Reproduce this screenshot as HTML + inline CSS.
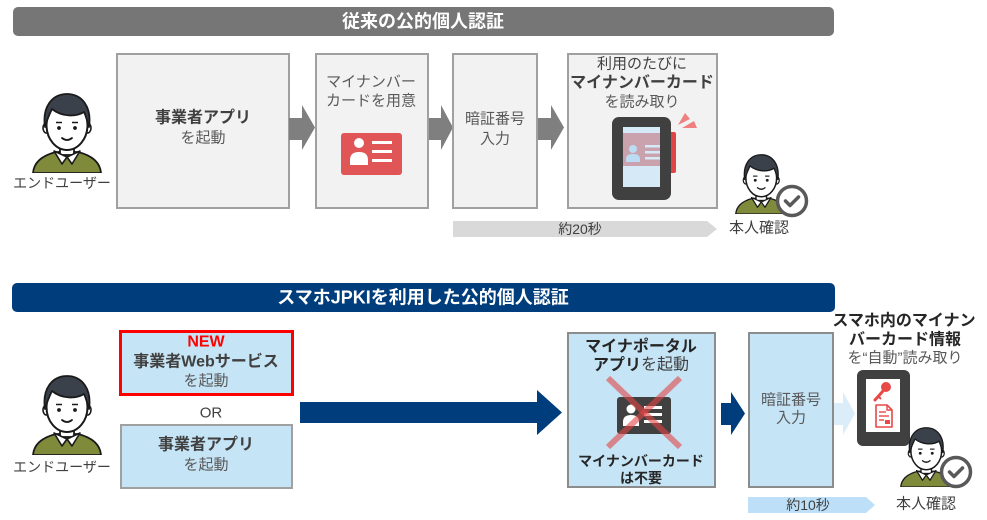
<!DOCTYPE html>
<html><head><meta charset="utf-8"><style>
html,body{margin:0;padding:0;background:#fff;}
body{width:987px;height:520px;overflow:hidden;}
svg{display:block;}
text{font-family:"Liberation Sans","Noto Sans CJK JP",sans-serif;}
</style></head><body>
<svg width="987" height="520" viewBox="0 0 987 520" xmlns="http://www.w3.org/2000/svg">
<defs>
<symbol id="person" viewBox="0 0 70 80">
 <path d="M1,80 C2,68 12,62 24,59 L46,59 C58,62 68,68 69,80 Z" fill="#7f8a3b" stroke="#1a1a1a" stroke-width="1.8"/>
 <rect x="28" y="46" width="14" height="16" fill="#fff" stroke="#1a1a1a" stroke-width="1.8"/>
 <path d="M22,58 L35,64 L30,71 Z" fill="#fff" stroke="#1a1a1a" stroke-width="1.6" stroke-linejoin="round"/>
 <path d="M48,58 L35,64 L40,71 Z" fill="#fff" stroke="#1a1a1a" stroke-width="1.6" stroke-linejoin="round"/>
 <ellipse cx="14.5" cy="35" rx="3.5" ry="5" fill="#fff" stroke="#1a1a1a" stroke-width="1.6"/>
 <ellipse cx="55.5" cy="35" rx="3.5" ry="5" fill="#fff" stroke="#1a1a1a" stroke-width="1.6"/>
 <ellipse cx="35" cy="32" rx="20.5" ry="25" fill="#fff" stroke="#1a1a1a" stroke-width="2"/>
 <path d="M13,34 C10,14 20,1 35,1 C50,1 60,14 57,34 C55,27 54,23 52,19 C44,24 30,24 20,16 C17,22 15,27 13,34 Z" fill="#3a414b" stroke="#1a1a1a" stroke-width="1.8" stroke-linejoin="round"/>
 <circle cx="27" cy="35" r="1.9" fill="#1a1a1a"/>
 <circle cx="43" cy="35" r="1.9" fill="#1a1a1a"/>
 <line x1="24" y1="29.5" x2="30" y2="29.5" stroke="#1a1a1a" stroke-width="1.5"/>
 <line x1="40" y1="29.5" x2="46" y2="29.5" stroke="#1a1a1a" stroke-width="1.5"/>
 <path d="M30,45 Q35,49 40,45" fill="none" stroke="#1a1a1a" stroke-width="1.8" stroke-linecap="round"/>
</symbol>
<symbol id="check" viewBox="-17 -17 34 34">
 <circle cx="0" cy="0" r="14.5" fill="#fff" stroke="#595959" stroke-width="3.5"/>
 <path d="M-6.5,0 L-2,4.5 L6.5,-4" fill="none" stroke="#595959" stroke-width="3.5" stroke-linecap="round" stroke-linejoin="round"/>
</symbol>
</defs>

<!-- ===== TOP SECTION ===== -->
<rect x="13" y="7" width="821" height="29" rx="5" fill="#767676"/>
<text x="423" y="21.5" text-anchor="middle" dominant-baseline="central" font-size="18" font-weight="bold" fill="#fff">従来の公的個人認証</text>

<use href="#person" x="32" y="93" width="70" height="80"/>
<text x="62" y="183" text-anchor="middle" dominant-baseline="central" font-size="14" fill="#404040">エンドユーザー</text>

<!-- box1 -->
<rect x="117" y="54" width="172" height="154" fill="#f2f2f2" stroke="#a0a0a0" stroke-width="2"/>
<text x="203" y="118" text-anchor="middle" dominant-baseline="central" font-size="16" font-weight="bold" fill="#404040">事業者アプリ</text>
<text x="203" y="138" text-anchor="middle" dominant-baseline="central" font-size="15" fill="#595959">を起動</text>

<!-- arrows top -->
<polygon points="289,118 302,118 302,105 315,127.5 302,150 302,140 289,140" fill="#7f7f7f"/>
<polygon points="428,118 441,118 441,105 453,127.5 441,150 441,140 428,140" fill="#7f7f7f"/>
<polygon points="538,118 551,118 551,105 564,127.5 551,150 551,140 538,140" fill="#7f7f7f"/>

<!-- box2 -->
<rect x="316" y="54" width="112" height="154" fill="#f2f2f2" stroke="#a0a0a0" stroke-width="2"/>
<text x="371" y="82" text-anchor="middle" dominant-baseline="central" font-size="15" fill="#595959">マイナンバー</text>
<text x="371" y="101" text-anchor="middle" dominant-baseline="central" font-size="15" fill="#595959">カードを用意</text>
<rect x="341" y="133" width="61" height="42" rx="3" fill="#e05656"/>
<circle cx="359" cy="143" r="5" fill="#fff"/>
<path d="M350,165 L350,160 Q350,152 359,152 Q368,152 368,160 L368,165 Z" fill="#fff"/>
<rect x="372" y="141" width="20" height="3" fill="#fff"/>
<rect x="372" y="150" width="20" height="3" fill="#fff"/>
<rect x="372" y="159" width="20" height="3" fill="#fff"/>

<!-- box3 -->
<rect x="453" y="54" width="84" height="154" fill="#f2f2f2" stroke="#a0a0a0" stroke-width="2"/>
<text x="495" y="119" text-anchor="middle" dominant-baseline="central" font-size="15" fill="#595959">暗証番号</text>
<text x="495" y="139" text-anchor="middle" dominant-baseline="central" font-size="15" fill="#595959">入力</text>

<!-- box4 -->
<rect x="568" y="54" width="149" height="154" fill="#f2f2f2" stroke="#a0a0a0" stroke-width="2"/>
<text x="642" y="64" text-anchor="middle" dominant-baseline="central" font-size="15" fill="#404040">利用のたびに</text>
<text x="642" y="83" text-anchor="middle" dominant-baseline="central" font-size="16" font-weight="bold" fill="#404040">マイナンバーカード</text>
<text x="642" y="102" text-anchor="middle" dominant-baseline="central" font-size="15" fill="#595959">を読み取り</text>
<rect x="662" y="132" width="14" height="41" rx="2" fill="#e04545"/>
<rect x="612" y="117" width="59" height="83" rx="7" fill="#404040"/>
<rect x="623" y="127" width="37" height="60" fill="#d6e9f7"/>
<rect x="623" y="133" width="37" height="33" fill="#c9a2ad"/>
<circle cx="633" cy="149" r="4" fill="#bcdcf3"/>
<path d="M626,162 L626,159 Q626,154 633,154 Q640,154 640,159 L640,162 Z" fill="#bcdcf3"/>
<rect x="645" y="145" width="15" height="2.5" fill="#d6e9f7"/>
<rect x="645" y="151" width="15" height="2.5" fill="#d6e9f7"/>
<rect x="645" y="157" width="15" height="2.5" fill="#d6e9f7"/>
<polygon points="678,125 685,113 690,119" fill="#f08080"/>
<polygon points="682,128 694,121 697,128" fill="#f08080"/>

<!-- timeline top -->
<polygon points="453,221 707,221 717,229 707,237 453,237" fill="#d9d9d9"/>
<text x="580" y="229" text-anchor="middle" dominant-baseline="central" font-size="14" fill="#404040">約20秒</text>

<use href="#person" x="735" y="154" width="52.5" height="60"/>
<use href="#check" x="775" y="184" width="34" height="34"/>
<text x="759" y="228" text-anchor="middle" dominant-baseline="central" font-size="15" fill="#404040">本人確認</text>

<!-- ===== BOTTOM SECTION ===== -->
<rect x="12" y="283" width="823" height="29" rx="5" fill="#003d7c"/>
<text x="423" y="297.5" text-anchor="middle" dominant-baseline="central" font-size="18" font-weight="bold" fill="#fff">スマホJPKIを利用した公的個人認証</text>

<use href="#person" x="32" y="375" width="70" height="80"/>
<text x="62" y="467" text-anchor="middle" dominant-baseline="central" font-size="14" fill="#404040">エンドユーザー</text>

<!-- NEW box -->
<rect x="120.5" y="331.5" width="172" height="63" fill="#c5e4f5" stroke="#ff0000" stroke-width="3"/>
<text x="206" y="342" text-anchor="middle" dominant-baseline="central" font-size="16" font-weight="bold" fill="#ff0000">NEW</text>
<text x="206" y="362" text-anchor="middle" dominant-baseline="central" font-size="16" font-weight="bold" fill="#404040">事業者Webサービス</text>
<text x="206" y="381" text-anchor="middle" dominant-baseline="central" font-size="15" fill="#595959">を起動</text>

<text x="211" y="413" text-anchor="middle" dominant-baseline="central" font-size="15" fill="#404040">OR</text>

<rect x="121" y="425" width="171" height="63" fill="#c5e4f5" stroke="#a0a0a0" stroke-width="2"/>
<text x="206" y="445" text-anchor="middle" dominant-baseline="central" font-size="16" font-weight="bold" fill="#404040">事業者アプリ</text>
<text x="206" y="465" text-anchor="middle" dominant-baseline="central" font-size="15" fill="#595959">を起動</text>

<!-- big arrow -->
<polygon points="300,402 537,402 537,390 562,412.5 537,435 537,423 300,423" fill="#003d7c"/>

<!-- mynaportal box -->
<rect x="568" y="333" width="147" height="154" fill="#c5e4f5" stroke="#8c8c8c" stroke-width="2"/>
<text x="641" y="347" text-anchor="middle" dominant-baseline="central" font-size="16" font-weight="bold" fill="#262626">マイナポータル</text>
<text x="641" y="365" text-anchor="middle" dominant-baseline="central" font-size="16" fill="#404040"><tspan font-weight="bold" fill="#262626">アプリ</tspan>を起動</text>
<rect x="617" y="397" width="54" height="37" rx="3" fill="#404040"/>
<circle cx="631" cy="409" r="4.5" fill="#fff"/>
<path d="M623,426 L623,422 Q623,415 631,415 Q639,415 639,422 L639,426 Z" fill="#fff"/>
<rect x="644" y="406" width="18" height="3" fill="#fff"/>
<rect x="644" y="413" width="18" height="3" fill="#fff"/>
<rect x="644" y="420" width="18" height="3" fill="#fff"/>
<line x1="608" y1="378" x2="680" y2="447" stroke="rgba(226,70,70,0.6)" stroke-width="6"/>
<line x1="680" y1="378" x2="608" y2="447" stroke="rgba(226,70,70,0.6)" stroke-width="6"/>
<text x="641" y="461" text-anchor="middle" dominant-baseline="central" font-size="14" font-weight="bold" fill="#262626">マイナンバーカード</text>
<text x="641" y="478" text-anchor="middle" dominant-baseline="central" font-size="14" font-weight="bold" fill="#262626">は不要</text>

<!-- small blue arrow -->
<polygon points="721,403 731,403 731,392 745,413.5 731,435 731,425 721,425" fill="#003d7c"/>

<!-- PIN box -->
<rect x="749" y="333" width="84" height="154" fill="#c5e4f5" stroke="#8c8c8c" stroke-width="2"/>
<text x="791" y="400" text-anchor="middle" dominant-baseline="central" font-size="15" fill="#595959">暗証番号</text>
<text x="791" y="418" text-anchor="middle" dominant-baseline="central" font-size="15" fill="#595959">入力</text>

<!-- pale arrow -->
<polygon points="834,403 843,403 843,392 855,413.5 843,435 843,425 834,425" fill="#dcedfa"/>

<!-- right header -->
<text x="904" y="321" text-anchor="middle" dominant-baseline="central" font-size="16" font-weight="bold" fill="#262626">スマホ内のマイナン</text>
<text x="905" y="340" text-anchor="middle" dominant-baseline="central" font-size="16" font-weight="bold" fill="#262626">バーカード情報</text>
<text x="905" y="358" text-anchor="middle" dominant-baseline="central" font-size="15" fill="#595959">を“自動”読み取り</text>

<!-- phone bottom -->
<rect x="857" y="370" width="53" height="76" rx="6" fill="#404040"/>
<rect x="866" y="379" width="34" height="53" fill="#fff"/>
<circle cx="886" cy="387" r="5" fill="#e84848"/>
<line x1="883" y1="391" x2="875" y2="400" stroke="#e84848" stroke-width="3" stroke-linecap="round"/>
<line x1="878" y1="396" x2="881" y2="399" stroke="#e84848" stroke-width="2"/>
<path d="M876,405 L887,405 L892,410 L892,427 L876,427 Z" fill="none" stroke="#e84848" stroke-width="1.6" stroke-linejoin="round"/>
<path d="M887,405 L887,410 L892,410" fill="none" stroke="#e84848" stroke-width="1.4"/>
<line x1="879" y1="412" x2="886" y2="412" stroke="#e84848" stroke-width="1.4"/>
<line x1="879" y1="416" x2="889" y2="416" stroke="#e84848" stroke-width="1.4"/>
<line x1="879" y1="420" x2="884" y2="420" stroke="#e84848" stroke-width="1.4"/>
<rect x="885" y="420" width="5" height="4" fill="#e84848"/>

<!-- timeline bottom -->
<polygon points="748,497 866,497 875,505 866,513 748,513" fill="#bde0f8"/>
<text x="808" y="505" text-anchor="middle" dominant-baseline="central" font-size="14" fill="#404040">約10秒</text>

<use href="#person" x="900" y="427" width="52.5" height="60"/>
<use href="#check" x="939" y="455" width="34" height="34"/>
<text x="926" y="504" text-anchor="middle" dominant-baseline="central" font-size="15" fill="#404040">本人確認</text>
</svg>
</body></html>
